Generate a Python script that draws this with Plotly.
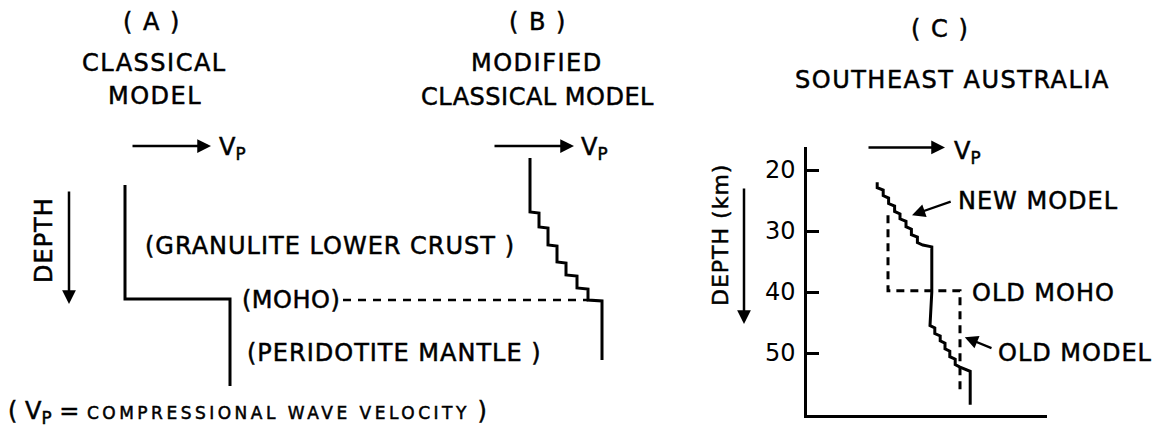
import plotly.graph_objects as go

W, H = 1159, 430
FONT = "DejaVu Sans"
INK = "black"

# ---------------- data ----------------
# Panels A and B are schematic: drawing units (x ~ relative Vp, y ~ relative depth)
classical_vp = [125, 125, 230, 230]
classical_depth = [185, 299, 299, 386]

modified_vp = [530, 530, 539, 539, 548, 548, 557, 557, 566, 566, 577, 577, 588, 588, 602, 602]
modified_depth = [158, 212, 213, 227, 228, 245, 246, 262, 263, 275, 276, 288, 289, 300, 301, 360]

moho_vp = [343, 588]
moho_depth = [300, 300]

# direction arrows (drawing units): (tail, head)
vp_arrow_a = ([131, 211], [146, 146])
vp_arrow_b = ([493, 574], [146, 146])
depth_arrow_a = ([69, 69], [190, 304])
depth_arrow_c = ([744, 744], [187, 324])

# Panel C: Southeast Australia (Vp in km/s, depth in km)
depth_ticks = [20, 30, 40, 50]
new_model_vp = [6.37, 6.37, 6.47, 6.47, 6.56, 6.56, 6.66, 6.66, 6.75, 6.75, 6.85, 6.85,
                6.94, 6.94, 7.04, 7.04, 7.13, 7.28, 7.28, 7.25,
                7.25, 7.33, 7.33, 7.42, 7.42, 7.50, 7.50, 7.58, 7.58, 7.67, 7.67, 7.75,
                7.92, 7.92]
new_model_depth = [22.0, 22.9, 23.3, 24.2, 24.6, 25.5, 25.9, 26.8, 27.2, 28.0, 28.4, 29.3,
                   29.7, 30.6, 31.0, 31.9, 32.3, 32.6, 40.0, 44.6,
                   45.5, 45.9, 46.8, 47.2, 48.0, 48.4, 49.3, 49.7, 50.6, 51.0, 51.9, 52.3,
                   53.0, 58.5]
old_model_vp = [6.55, 6.55, 7.75, 7.75]
old_model_depth = [27.4, 39.8, 39.8, 56.6]
vp_arrow_c = ([6.20, 7.50], [16.3, 16.3])
new_model_pointer = ([7.62, 6.95], [25.1, 27.4])
old_model_pointer = ([8.30, 7.83], [49.3, 47.4])

panel_labels = ["( A )", "( B )", "( C )"]
panel_titles = [["CLASSICAL", "MODEL"], ["MODIFIED", "CLASSICAL MODEL"], ["SOUTHEAST AUSTRALIA"]]
layer_labels = ["(GRANULITE LOWER CRUST )", "(MOHO)", "(PERIDOTITE MANTLE )"]
curve_labels = ["NEW MODEL", "OLD MOHO", "OLD MODEL"]

# ---------------- figure ----------------
fig = go.Figure()

line = dict(color=INK, width=3)


def add_line(xs, ys, ax="x", ay="y", **kw):
    fig.add_trace(go.Scatter(x=xs, y=ys, mode="lines", xaxis=ax, yaxis=ay,
                             hoverinfo="skip", showlegend=False, **kw))


add_line(classical_vp, classical_depth, line=line)
add_line(modified_vp, modified_depth, line=line)
add_line(moho_vp, moho_depth, line=dict(color=INK, width=2.5, dash="8px,7px"))
add_line(old_model_vp, old_model_depth, "x3", "y3", line=dict(color=INK, width=3, dash="8px,6px"))
add_line(new_model_vp, new_model_depth, "x3", "y3", line=line)

ann = []
STROKE = "stroke:black;stroke-width:0.5px"


def arrow(pts, xr="x", yr="y", width=2.5, size=1.1):
    (x0, x1), (y0, y1) = pts
    ann.append(dict(x=x1, y=y1, ax=x0, ay=y0, xref=xr, yref=yr, axref=xr, ayref=yr,
                    text="", showarrow=True, arrowhead=2, arrowsize=size,
                    arrowwidth=width, arrowcolor=INK))


def txt(x, y, s, size=24, xanchor="center", angle=0, spacing=1.5):
    ann.append(dict(x=x, y=y, xref="x", yref="y", showarrow=False,
                    text=f"<span style='letter-spacing:{spacing}px;{STROKE}'>{s}</span>",
                    xanchor=xanchor, yanchor="middle", textangle=angle,
                    font=dict(family=FONT, size=size, color=INK)))


arrow(vp_arrow_a)
arrow(vp_arrow_b)
arrow(depth_arrow_a)
arrow(depth_arrow_c)
arrow(vp_arrow_c, "x3", "y3")
arrow(new_model_pointer, "x3", "y3", width=2.2, size=1.2)
arrow(old_model_pointer, "x3", "y3", width=2.2, size=1.2)

# panel headings
txt(152, 22, panel_labels[0])
txt(154, 63, panel_titles[0][0])
txt(155, 96, panel_titles[0][1])
txt(538, 22, panel_labels[1])
txt(537, 63, panel_titles[1][0])
txt(537, 97, panel_titles[1][1], spacing=0.5)
txt(940, 29, panel_labels[2])
txt(952, 80, panel_titles[2][0], spacing=1.5)

# Vp labels
vp = "V<sub>P</sub>"
txt(217, 148, vp, xanchor="left", spacing=0)
txt(579, 148, vp, xanchor="left", spacing=0)
txt(952, 152, vp, xanchor="left", spacing=0)

# depth labels
txt(44, 240, "DEPTH", angle=-90, spacing=1)
txt(720, 235, "DEPTH (km)", size=22, angle=-90, spacing=1)

# layer labels
txt(143, 246, layer_labels[0], xanchor="left", spacing=1)
txt(240, 300, layer_labels[1], xanchor="left", spacing=0.5)
txt(245, 353, layer_labels[2], xanchor="left", spacing=1)

# footnote
ann.append(dict(x=6, y=412, xref="x", yref="y", showarrow=False, xanchor="left", yanchor="middle",
                text=f"<span style='{STROKE}'>( V<sub>P</sub> = </span>"
                     f"<span style='font-size:17px;letter-spacing:3.5px;{STROKE}'>"
                     "COMPRESSIONAL WAVE VELOCITY</span>"
                     f"<span style='{STROKE}'> )</span>",
                font=dict(family=FONT, size=24, color=INK)))

# panel C labels
txt(956, 201, curve_labels[0], xanchor="left", spacing=1)
txt(970, 293, curve_labels[1], xanchor="left", spacing=1)
txt(996, 353, curve_labels[2], xanchor="left", spacing=1)

fig.update_layout(
    width=W, height=H, autosize=False,
    margin=dict(l=0, r=0, t=0, b=0, pad=0),
    paper_bgcolor="white", plot_bgcolor="rgba(0,0,0,0)",
    showlegend=False,
    annotations=ann,
    xaxis=dict(domain=[0, 1], range=[0, W], visible=False, fixedrange=True),
    yaxis=dict(domain=[0, 1], range=[H, 0], visible=False, fixedrange=True),
    xaxis3=dict(domain=[807 / W, 1047 / W], range=[5.2, 9.2], anchor="y3",
                showline=True, linecolor=INK, linewidth=2.5, showgrid=False,
                zeroline=False, showticklabels=False, ticks="", fixedrange=True),
    yaxis3=dict(domain=[(H - 415) / H, (H - 147) / H], range=[60.16, 16.23], anchor="x3",
                showline=True, linecolor=INK, linewidth=2.5, showgrid=False,
                zeroline=False, tickvals=depth_ticks, ticks="inside", ticklen=12,
                tickwidth=2.5, tickcolor=INK, ticklabelstandoff=4, fixedrange=True,
                tickfont=dict(family=FONT, size=24, color=INK)),
)

fig.write_html("out.html", config={"displayModeBar": False},
               post_script="document.body.style.margin='0px';document.body.style.overflow='hidden';")
